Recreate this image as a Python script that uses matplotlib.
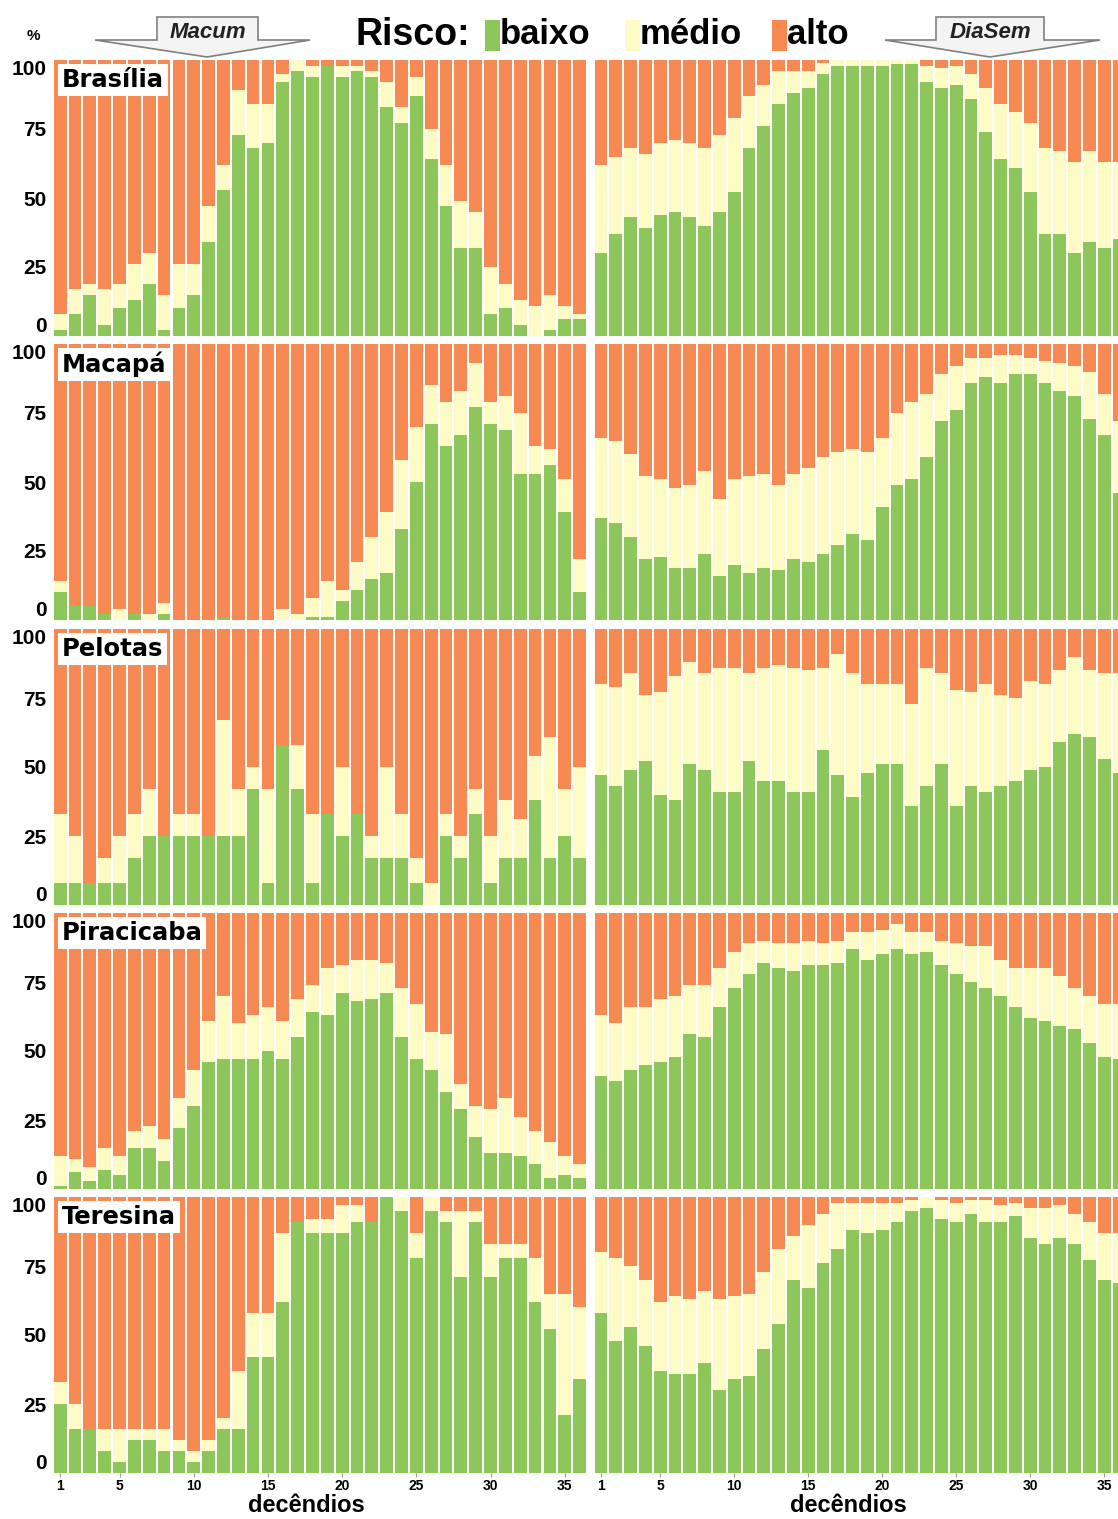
import matplotlib; matplotlib.use("Agg")
import matplotlib.pyplot as plt
from matplotlib.patches import Polygon, Rectangle
import numpy as np

W, H = 1118, 1519
GREEN, YELLOW, ORANGE = "#8dc65b", "#fdfbc6", "#f68a52"
NARROW = ["Liberation Sans Narrow", "Liberation Sans", "DejaVu Sans"]
SANS = ["Liberation Sans", "DejaVu Sans"]

decendios = np.arange(1, 37)
cidades = ["Brasília", "Macapá", "Pelotas", "Piracicaba", "Teresina"]

# % baixo / % baixo+médio (topo da faixa amarela); alto = resto até 100
brasilia_macum_baixo = [2,8,15,4,10,13,19,2,10,15,34,53,73,68,70,92,96,94,98,94,96,94,83,77,87,64,47,32,32,8,10,4,0,2,6,6]
brasilia_macum_medio = [8,17,19,17,19,26,30,15,26,26,47,62,89,84,84,95,100,98,98,98,98,96,92,83,94,75,62,49,45,25,19,13,11,15,11,8]
brasilia_diasem_baixo = [30,37,43,39,44,45,43,40,45,52,68,76,84,88,90,95,98,98,98,98,98.5,98.5,92,90,91,86,74,64,61,52,37,37,30,34,32,35]
brasilia_diasem_medio = [62,65,68,66,70,71,70,68,73,79,87,91,96,96,96,99,100,100,100,100,100,100,98,97,98,95,90,84,81,77,68,67,63,67,63,63]

macapa_macum_baixo = [10,5,5,2,0,2,0,2,0,0,0,1,0,0,0,0,0,1,1,7,11,15,17,33,50,71,63,67,77,71,69,53,53,56,39,10]
macapa_macum_medio = [14,5,5,2,4,2,2,6,0,0,0,1,0,0,0,4,2,8,14,11,21,30,39,58,70,85,79,83,93,79,81,75,63,62,51,22]
macapa_diasem_baixo = [37,35,30,22,23,19,19,24,16,20,17,19,18,22,21,24,27,31,29,41,49,51,59,72,76,86,88,86,89,89,86,83,81,73,67,46]
macapa_diasem_medio = [66,65,60,52,51,48,49,54,44,51,52,53,49,53,55,59,61,62,61,66,75,79,82,89,92,95,95,96,96,95,94,93,92,90,82,72]

pelotas_macum_baixo = [8,8,8,8,8,17,25,25,25,25,25,25,25,42,8,58,42,8,33,25,33,17,17,17,8,0,25,17,33,8,17,17,38,17,25,17]
pelotas_macum_medio = [33,25,8,17,25,33,42,25,33,33,25,67,42,50,42,58,58,33,33,50,33,25,50,33,17,8,33,25,42,25,38,31,54,61,42,50]
pelotas_diasem_baixo = [47,43,49,52,40,38,51,49,41,41,52,45,45,41,41,56,47,39,48,51,51,36,43,51,36,43,41,43,45,49,50,59,62,61,53,48]
pelotas_diasem_medio = [80,79,84,76,77,83,88,84,86,86,84,86,87,86,85,86,91,84,80,80,80,73,86,84,78,77,80,76,75,81,80,85,90,85,84,84]

piracicaba_macum_baixo = [1,6,3,7,5,15,15,10,22,30,46,47,47,47,50,47,55,64,63,71,68,69,71,55,47,43,35,29,19,13,13,12,9,4,5,4]
piracicaba_macum_medio = [12,11,8,15,12,21,23,18,33,43,61,70,60,63,66,61,69,74,80,81,83,83,82,73,67,57,56,38,30,29,33,26,21,17,12,9]
piracicaba_diasem_baixo = [41,39,43,45,46,48,56,55,66,73,78,82,80,79,81,81,82,87,83,85,87,85,86,81,78,75,73,70,66,62,61,59,58,53,48,47]
piracicaba_diasem_medio = [63,60,66,66,69,70,74,74,80,86,89,90,89,89,90,89,90,93,93,94,96,93,93,90,89,88,88,83,80,80,80,77,73,70,67,67]

teresina_macum_baixo = [25,16,16,8,4,12,12,8,8,4,8,16,16,42,42,62,91,87,87,87,91,91,100,95,78,95,91,71,91,71,78,78,62,52,21,34]
teresina_macum_medio = [33,25,16,16,16,16,16,16,12,8,12,20,37,58,58,87,91,92,92,97,97,91,100,100,87,100,95,95,95,83,83,83,78,65,65,60]
teresina_diasem_baixo = [58,48,53,46,37,36,36,40,30,34,35,45,54,70,67,76,81,88,87,88,91,95,96,92,91,94,91,91,93,85,83,85,83,77,70,69]
teresina_diasem_medio = [80,78,75,70,62,64,63,66,63,64,65,73,81,86,90,94,98,98,98,98,98,99,100,99,98,99,99,97,98,96,96,97,94,91,87,87]

macum = [(brasilia_macum_baixo, brasilia_macum_medio), (macapa_macum_baixo, macapa_macum_medio),
         (pelotas_macum_baixo, pelotas_macum_medio), (piracicaba_macum_baixo, piracicaba_macum_medio),
         (teresina_macum_baixo, teresina_macum_medio)]
diasem = [(brasilia_diasem_baixo, brasilia_diasem_medio), (macapa_diasem_baixo, macapa_diasem_medio),
          (pelotas_diasem_baixo, pelotas_diasem_medio), (piracicaba_diasem_baixo, piracicaba_diasem_medio),
          (teresina_diasem_baixo, teresina_diasem_medio)]
yticks = [0, 25, 50, 75, 100]
xticks = [1, 5, 10, 15, 20, 25, 30, 35]

fig = plt.figure(figsize=(W/100, H/100), dpi=100)
fig.patch.set_facecolor("white")

def pax(x0, y0, x1, y1):
    # pixel box (top-left origin) -> axes
    return fig.add_axes([x0/W, 1-y1/H, (x1-x0)/W, (y1-y0)/H])

def stack(ax, baixo, medio):
    b = np.array(baixo, float); m = np.array(medio, float)
    ax.bar(decendios, b, width=0.86, color=GREEN, lw=0)
    ax.bar(decendios, m-b, bottom=b, width=0.86, color=YELLOW, lw=0)
    ax.bar(decendios, 100-m, bottom=m, width=0.86, color=ORANGE, lw=0)
    ax.set_ylim(0, 100)
    for s in ax.spines.values(): s.set_visible(False)

tops = [60, 344, 629, 913, 1197]
ph = 276
for r in range(5):
    t = tops[r]
    axl = pax(52, t, 587, t+ph); axr = pax(594, t, 1118, t+ph)
    stack(axl, *macum[r]); stack(axr, *diasem[r])
    axl.set_xlim(0.45, 36.5); axr.set_xlim(0.53, 35.93)
    axl.set_yticks(yticks)
    labs = axl.set_yticklabels([str(v) for v in yticks], family=NARROW, fontsize=15, fontweight="bold")
    labs[0].set_va("bottom"); labs[-1].set_va("top")
    axl.tick_params(axis="y", length=0, pad=4)
    axr.set_yticks([])
    axl.text(0.018, 0.972, cidades[r], transform=axl.transAxes, ha="left", va="top",
             fontsize=17.5, fontweight="bold", family=["DejaVu Sans"],
             bbox=dict(boxstyle="square,pad=0.16", fc="white", ec="none"))
    for ax in (axl, axr):
        if r == 4:
            ax.set_xticks(xticks)
            ax.set_xticklabels([str(v) for v in xticks], family=NARROW, fontsize=10, fontweight="bold")
            ax.tick_params(axis="x", length=3, color="#999999", pad=1)
        else:
            ax.set_xticks([])

# cabeçalho
def ftx(x, y, s, **kw):
    fig.text(x/W, 1-y/H, s, **kw)

ftx(306, 1506, "decêndios", ha="center", va="center", fontsize=17, fontweight="bold", family=NARROW)
ftx(848, 1506, "decêndios", ha="center", va="center", fontsize=17, fontweight="bold", family=NARROW)

ftx(33, 36, "%", ha="center", va="center", fontsize=11, fontweight="bold", family=NARROW)
ftx(413, 35, "Risco:", ha="center", va="center", fontsize=27, family=SANS, fontweight="bold")
legend_items = [(485, GREEN, "baixo"), (625, YELLOW, "médio"), (772, ORANGE, "alto")]
for x, c, lab in legend_items:
    fig.add_artist(Rectangle((x/W, 1-51/H), 15/W, 31/H, transform=fig.transFigure, fc=c, ec="none"))
    ftx(x+15, 35, lab, ha="left", va="center", fontsize=25, family=SANS, fontweight="bold")

def seta(cx, bx0, bx1, wx0, wx1, label):
    pts = [(bx0, 17), (bx1, 17), (bx1, 40), (wx1, 40), (cx, 57), (wx0, 40), (bx0, 40)]
    pts = [(x/W, 1-y/H) for x, y in pts]
    fig.add_artist(Polygon(pts, closed=True, transform=fig.transFigure, fc="#f4f4f4", ec="#808080", lw=1.2))
    ftx((bx0+bx1)/2, 33, label, ha="center", va="center", fontsize=16, fontweight="bold",
        style="italic", family=SANS, color="#222222")

seta(207, 157, 258, 95, 310, "Macum")
seta(990, 936, 1044, 885, 1100, "DiaSem")

fig.savefig("out.png", dpi=100)
